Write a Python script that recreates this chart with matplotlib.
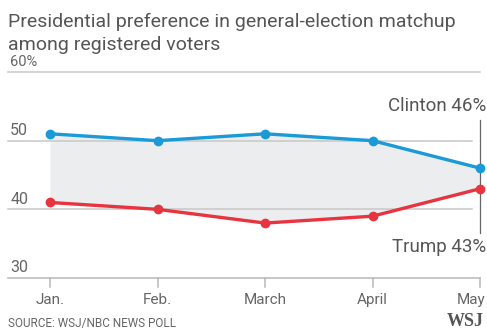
import matplotlib
matplotlib.use("Agg")
import matplotlib.pyplot as plt

months = ["Jan.", "Feb.", "March", "April", "May"]
clinton = [51, 50, 51, 50, 46]
trump = [41, 40, 38, 39, 43]
yticks = [30, 40, 50, 60]

BLUE = "#1a9ad6"
RED = "#e8343f"
TXT = "#666666"

plt.rcParams["font.family"] = ["Roboto", "DejaVu Sans"]

W, H = 487, 332
fig = plt.figure(figsize=(W / 100, H / 100), dpi=100)

# axes placed in pixel terms: 30 -> y=278px, 60 -> y=72px
ax = fig.add_axes([8 / W, (H - 278) / H, (W - 8) / W, (278 - 72) / H])
x = list(range(len(months)))
x0 = -42 / 107.5
x1 = 4 + 7 / 107.5
ax.set_xlim(x0, x1)
ax.set_ylim(30, 60)
ax.axis("off")

# gridlines
for v in yticks:
    if v in (30, 60):
        ax.plot([x0, 4], [v, v], color="#b8b8b8" if v == 30 else "#c8c8c8",
                lw=1.1, clip_on=False, zorder=1)
    else:
        ax.plot([x0, 3.93], [v, v], color="#c8c8c8", lw=1.1, clip_on=False, zorder=1)
    lab = f"{v}%" if v == 60 else str(v)
    ax.text(x0 + 0.02, v + 0.4, lab, fontsize=10.5 if v == 60 else 11.5,
            color=TXT, ha="left", va="bottom")

# month ticks
for i, m in enumerate(months):
    ax.plot([i, i], [30, 28.7], color="#b8b8b8", lw=1.1, clip_on=False)
    if i == len(months) - 1:
        ax.text(x1 - 0.01, 27.8, m, fontsize=11, color=TXT, ha="right", va="top")
    else:
        ax.text(i, 27.8, m, fontsize=11, color=TXT, ha="center", va="top")

ax.fill_between(x, clinton, trump, color="#ecedef", lw=0, zorder=0)
ax.plot(x, clinton, color=BLUE, lw=2.4, marker="o", ms=6, clip_on=False, zorder=3)
ax.plot(x, trump, color=RED, lw=2.4, marker="o", ms=6, clip_on=False, zorder=3)

# end labels and connector
ax.plot([4, 4], [36.6, 53.0], color="#666666", lw=0.9, clip_on=False, zorder=2)
ax.text(x1 - 0.01, 53.7, f"Clinton {clinton[-1]}%", fontsize=13.5, color="#555555",
        ha="right", va="bottom")
ax.text(x1 - 0.01, 35.8, f"Trump {trump[-1]}%", fontsize=13.5, color="#555555",
        ha="right", va="top")

fig.text(8 / W, 1 - 22 / H, "Presidential preference in general-election matchup",
         fontsize=14, color="#555555", ha="left", va="center")
fig.text(8 / W, 1 - 45 / H, "among registered voters",
         fontsize=14, color="#555555", ha="left", va="center")
fig.text(8 / W, 1 - 324 / H, "SOURCE: WSJ/NBC NEWS POLL", fontsize=8.5,
         color=TXT, ha="left", va="center")
fig.text(1 - 3 / W, 1 - 322 / H, "WSJ", fontsize=13, color="#555555",
         family="Liberation Serif", weight="bold", ha="right", va="center")

fig.savefig("out.png", dpi=100, facecolor="white")
